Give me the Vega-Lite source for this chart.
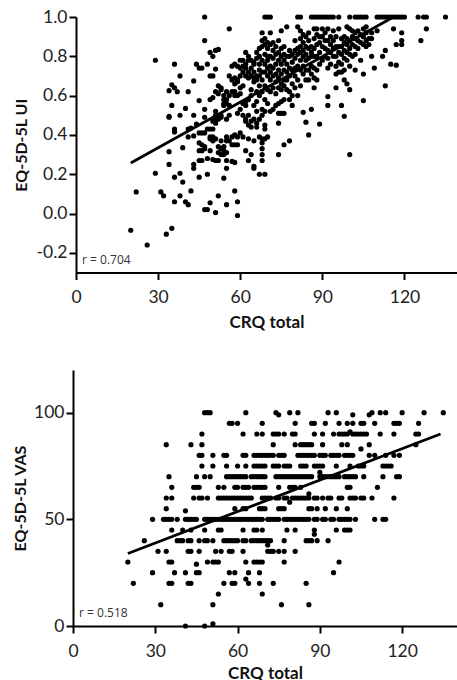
{"$schema":"https://vega.github.io/schema/vega-lite/v6.json","background":"white","padding":{"left":12,"top":8,"right":0,"bottom":0},"spacing":40,"align":"none","bounds":"full",
"config":{"view":{"stroke":null},"font":"Lato","axis":{"grid":false,"domainColor":"black","domainWidth":2,"tickColor":"black","tickWidth":2,"tickSize":7,"labelFont":"Lato","labelFontSize":17.5,"labelColor":"#222","titleFont":"Lato","titleFontSize":16,"titleFontWeight":"bold","titleColor":"#111","labelPadding":2}},
"datasets":{
"ui":[{"c":47,"v":1},{"c":69,"v":1},{"c":70,"v":1},{"c":71,"v":1},{"c":81,"v":1},{"c":82,"v":1},{"c":86,"v":1},{"c":87,"v":1},{"c":88,"v":1},{"c":89,"v":1},{"c":90,"v":1},{"c":91,"v":1},{"c":92,"v":1},{"c":93,"v":1},{"c":94,"v":1},{"c":96,"v":1},{"c":100,"v":1},{"c":102,"v":1},{"c":103,"v":1},{"c":104,"v":1},{"c":105,"v":1},{"c":106,"v":1},{"c":110,"v":1},{"c":111,"v":1},{"c":112,"v":1},{"c":113,"v":1},{"c":114,"v":1},{"c":115,"v":1},{"c":116,"v":1},{"c":117,"v":1},{"c":118,"v":1},{"c":119,"v":1},{"c":120,"v":1},{"c":125,"v":1},{"c":127,"v":1},{"c":128,"v":1},{"c":135,"v":1},
{"c":56,"v":0.94},{"c":128,"v":0.94},{"c":126,"v":0.88},{"c":47,"v":0.88},{"c":119,"v":0.92},{"c":119,"v":0.88},{"c":119,"v":0.86},{"c":117,"v":0.86},{"c":116,"v":0.94},{"c":113,"v":0.83},{"c":115,"v":0.76},{"c":117,"v":0.755},{"c":112,"v":0.8},{"c":108,"v":0.8},{"c":109,"v":0.74},{"c":105,"v":0.71},{"c":102,"v":0.73},{"c":113,"v":0.65},{"c":105,"v":0.575},{"c":100,"v":0.63},{"c":98,"v":0.495},{"c":97,"v":0.55},{"c":92,"v":0.55},{"c":92,"v":0.595},{"c":95,"v":0.64},{"c":89,"v":0.455},{"c":85,"v":0.4},{"c":84,"v":0.465},{"c":86,"v":0.53},{"c":83,"v":0.515},{"c":100,"v":0.3},{"c":74,"v":0.3},{"c":76,"v":0.35},{"c":78,"v":0.37},{"c":29,"v":0.78},{"c":36,"v":0.76},{"c":38,"v":0.7},{"c":43,"v":0.675},{"c":41,"v":0.62},{"c":34,"v":0.625},{"c":35,"v":0.655},{"c":36,"v":0.64},{"c":37,"v":0.62},{"c":35,"v":0.55},{"c":34,"v":0.495},{"c":34,"v":0.49},{"c":38,"v":0.5},{"c":40,"v":0.535},{"c":43,"v":0.5},{"c":45,"v":0.575},{"c":44,"v":0.76},{"c":45,"v":0.74},{"c":46,"v":0.74},{"c":48,"v":0.76},{"c":49,"v":0.82},{"c":50,"v":0.8},{"c":51,"v":0.83},{"c":52,"v":0.835},{"c":49,"v":0.7},{"c":50,"v":0.7},{"c":51,"v":0.735},{"c":36,"v":0.43},{"c":36,"v":0.42},{"c":36,"v":0.415},{"c":34,"v":0.315},{"c":34,"v":0.25},{"c":39,"v":0.335},{"c":41,"v":0.43},{"c":42,"v":0.435},{"c":41,"v":0.39},{"c":43,"v":0.395},{"c":44,"v":0.455},{"c":47,"v":0.49},{"c":47,"v":0.53},{"c":43,"v":0.25},{"c":43,"v":0.23},{"c":45,"v":0.185},{"c":48,"v":0.2},{"c":48,"v":0.28},{"c":46,"v":0.27},{"c":45,"v":0.27},{"c":50,"v":0.275},{"c":51,"v":0.27},{"c":52,"v":0.27},{"c":54,"v":0.18},{"c":55,"v":0.23},{"c":55,"v":0.27},{"c":57,"v":0.265},{"c":58,"v":0.26},{"c":29,"v":0.205},{"c":36,"v":0.185},{"c":38,"v":0.205},{"c":39,"v":0.16},{"c":42,"v":0.115},{"c":22,"v":0.11},{"c":31,"v":0.11},{"c":32,"v":0.09},{"c":36,"v":0.06},{"c":38,"v":0.09},{"c":40,"v":0.06},{"c":41,"v":0.045},{"c":47,"v":0.02},{"c":48,"v":0.02},{"c":49,"v":0.055},{"c":51,"v":0.005},{"c":52,"v":0.09},{"c":55,"v":0.045},{"c":58,"v":0.115},{"c":59,"v":0.06},{"c":59,"v":-0.01},{"c":20,"v":-0.085},{"c":26,"v":-0.16},{"c":33,"v":-0.105},{"c":35,"v":-0.075},
{"c":45,"v":0.41},{"c":45,"v":0.36},{"c":45,"v":0.32},{"c":46,"v":0.35},{"c":46,"v":0.32},{"c":46,"v":0.41},{"c":47,"v":0.34},{"c":47,"v":0.41},{"c":47,"v":0.33},{"c":48,"v":0.43},{"c":49,"v":0.43},{"c":49,"v":0.39},{"c":49,"v":0.38},{"c":49,"v":0.58},{"c":49,"v":0.32},{"c":50,"v":0.43},{"c":50,"v":0.39},{"c":50,"v":0.37},{"c":50,"v":0.59},{"c":50,"v":0.47},{"c":51,"v":0.38},{"c":51,"v":0.62},{"c":51,"v":0.5},{"c":51,"v":0.46},{"c":51,"v":0.52},{"c":51,"v":0.48},{"c":52,"v":0.34},{"c":52,"v":0.31},{"c":52,"v":0.65},{"c":52,"v":0.49},{"c":52,"v":0.48},{"c":52,"v":0.61},{"c":53,"v":0.33},{"c":53,"v":0.3},{"c":53,"v":0.37},{"c":53,"v":0.64},{"c":53,"v":0.63},{"c":53,"v":0.5},{"c":53,"v":0.49},{"c":54,"v":0.32},{"c":54,"v":0.34},{"c":54,"v":0.58},{"c":54,"v":0.56},{"c":54,"v":0.55},{"c":54,"v":0.3},{"c":54,"v":0.6},{"c":55,"v":0.37},{"c":55,"v":0.39},{"c":55,"v":0.31},{"c":55,"v":0.48},{"c":55,"v":0.58},{"c":55,"v":0.56},{"c":55,"v":0.62},{"c":56,"v":0.37},{"c":56,"v":0.5},{"c":56,"v":0.55},{"c":56,"v":0.7},{"c":56,"v":0.6},{"c":57,"v":0.35},{"c":57,"v":0.39},{"c":57,"v":0.68},{"c":57,"v":0.62},{"c":57,"v":0.75},{"c":58,"v":0.35},{"c":58,"v":0.4},{"c":58,"v":0.66},{"c":58,"v":0.69},{"c":58,"v":0.62},{"c":58,"v":0.76},{"c":58,"v":0.6},{"c":59,"v":0.35},{"c":59,"v":0.39},{"c":59,"v":0.51},{"c":59,"v":0.6},{"c":59,"v":0.68},{"c":59,"v":0.67},{"c":59,"v":0.75},{"c":60,"v":0.41},{"c":60,"v":0.53},{"c":60,"v":0.64},{"c":60,"v":0.61},{"c":60,"v":0.7},{"c":60,"v":0.78},{"c":60,"v":0.74},{"c":61,"v":0.39},{"c":61,"v":0.5},{"c":61,"v":0.56},{"c":61,"v":0.65},{"c":61,"v":0.75},{"c":61,"v":0.72},{"c":61,"v":0.78},{"c":62,"v":0.32},{"c":62,"v":0.48},{"c":62,"v":0.47},{"c":62,"v":0.55},{"c":62,"v":0.57},{"c":62,"v":0.76},{"c":62,"v":0.74},{"c":62,"v":0.82},{"c":62,"v":0.7},{"c":63,"v":0.38},{"c":63,"v":0.27},{"c":63,"v":0.45},{"c":63,"v":0.5},{"c":63,"v":0.58},{"c":63,"v":0.69},{"c":63,"v":0.72},{"c":63,"v":0.78},{"c":63,"v":0.8},{"c":64,"v":0.3},{"c":64,"v":0.44},{"c":64,"v":0.47},{"c":64,"v":0.6},{"c":64,"v":0.63},{"c":64,"v":0.7},{"c":64,"v":0.74},{"c":64,"v":0.78},{"c":65,"v":0.37},{"c":65,"v":0.24},{"c":65,"v":0.23},{"c":65,"v":0.48},{"c":65,"v":0.55},{"c":65,"v":0.67},{"c":65,"v":0.69},{"c":65,"v":0.72},{"c":65,"v":0.76},{"c":65,"v":0.77},{"c":66,"v":0.46},{"c":66,"v":0.44},{"c":66,"v":0.52},{"c":66,"v":0.57},{"c":66,"v":0.62},{"c":66,"v":0.68},{"c":66,"v":0.7},{"c":66,"v":0.79},{"c":66,"v":0.82},{"c":67,"v":0.2},{"c":67,"v":0.39},{"c":67,"v":0.48},{"c":67,"v":0.6},{"c":67,"v":0.65},{"c":67,"v":0.7},{"c":67,"v":0.73},{"c":67,"v":0.76},{"c":67,"v":0.8},{"c":67,"v":0.84},{"c":68,"v":0.27},{"c":68,"v":0.3},{"c":68,"v":0.33},{"c":68,"v":0.36},{"c":68,"v":0.38},{"c":68,"v":0.5},{"c":68,"v":0.53},{"c":68,"v":0.62},{"c":68,"v":0.68},{"c":68,"v":0.72},{"c":68,"v":0.78},{"c":68,"v":0.85},{"c":68,"v":0.88},{"c":68,"v":0.92},{"c":69,"v":0.2},{"c":69,"v":0.38},{"c":69,"v":0.45},{"c":69,"v":0.43},{"c":69,"v":0.52},{"c":69,"v":0.58},{"c":69,"v":0.65},{"c":69,"v":0.72},{"c":69,"v":0.76},{"c":69,"v":0.81},{"c":69,"v":0.86},{"c":69,"v":0.89},{"c":70,"v":0.39},{"c":70,"v":0.56},{"c":70,"v":0.63},{"c":70,"v":0.7},{"c":70,"v":0.74},{"c":70,"v":0.78},{"c":70,"v":0.84},{"c":70,"v":0.87},{"c":70,"v":0.8},{"c":71,"v":0.52},{"c":71,"v":0.62},{"c":71,"v":0.68},{"c":71,"v":0.72},{"c":71,"v":0.75},{"c":71,"v":0.8},{"c":71,"v":0.86},{"c":71,"v":0.92},{"c":72,"v":0.53},{"c":72,"v":0.64},{"c":72,"v":0.7},{"c":72,"v":0.74},{"c":72,"v":0.79},{"c":72,"v":0.83},{"c":72,"v":0.87},{"c":73,"v":0.55},{"c":73,"v":0.61},{"c":73,"v":0.67},{"c":73,"v":0.71},{"c":73,"v":0.76},{"c":73,"v":0.81},{"c":73,"v":0.85},{"c":74,"v":0.46},{"c":74,"v":0.51},{"c":74,"v":0.56},{"c":74,"v":0.64},{"c":74,"v":0.69},{"c":74,"v":0.73},{"c":74,"v":0.78},{"c":74,"v":0.82},{"c":74,"v":0.88},{"c":75,"v":0.51},{"c":75,"v":0.57},{"c":75,"v":0.63},{"c":75,"v":0.66},{"c":75,"v":0.71},{"c":75,"v":0.76},{"c":75,"v":0.8},{"c":75,"v":0.84},{"c":75,"v":0.93},{"c":76,"v":0.51},{"c":76,"v":0.58},{"c":76,"v":0.65},{"c":76,"v":0.68},{"c":76,"v":0.73},{"c":76,"v":0.78},{"c":76,"v":0.81},{"c":76,"v":0.85},{"c":77,"v":0.63},{"c":77,"v":0.68},{"c":77,"v":0.72},{"c":77,"v":0.76},{"c":77,"v":0.8},{"c":77,"v":0.95},{"c":78,"v":0.58},{"c":78,"v":0.62},{"c":78,"v":0.7},{"c":78,"v":0.74},{"c":78,"v":0.8},{"c":78,"v":0.83},{"c":79,"v":0.55},{"c":79,"v":0.6},{"c":79,"v":0.66},{"c":79,"v":0.73},{"c":79,"v":0.77},{"c":79,"v":0.81},{"c":80,"v":0.64},{"c":80,"v":0.7},{"c":80,"v":0.74},{"c":80,"v":0.79},{"c":80,"v":0.83},{"c":80,"v":0.88},{"c":81,"v":0.6},{"c":81,"v":0.68},{"c":81,"v":0.75},{"c":81,"v":0.81},{"c":81,"v":0.84},{"c":81,"v":0.95},{"c":82,"v":0.65},{"c":82,"v":0.73},{"c":82,"v":0.78},{"c":82,"v":0.82},{"c":82,"v":0.85},{"c":82,"v":0.89},{"c":82,"v":0.93},{"c":83,"v":0.71},{"c":83,"v":0.75},{"c":83,"v":0.8},{"c":83,"v":0.83},{"c":83,"v":0.87},{"c":83,"v":0.91},{"c":84,"v":0.68},{"c":84,"v":0.73},{"c":84,"v":0.78},{"c":84,"v":0.81},{"c":84,"v":0.85},{"c":84,"v":0.9},{"c":85,"v":0.68},{"c":85,"v":0.73},{"c":85,"v":0.79},{"c":85,"v":0.84},{"c":85,"v":0.88},{"c":85,"v":0.92},{"c":86,"v":0.71},{"c":86,"v":0.75},{"c":86,"v":0.8},{"c":86,"v":0.85},{"c":86,"v":0.82},{"c":87,"v":0.64},{"c":87,"v":0.69},{"c":87,"v":0.74},{"c":87,"v":0.8},{"c":87,"v":0.84},{"c":87,"v":0.89},{"c":87,"v":0.94},{"c":88,"v":0.68},{"c":88,"v":0.73},{"c":88,"v":0.8},{"c":88,"v":0.86},{"c":88,"v":0.91},{"c":88,"v":0.94},{"c":89,"v":0.76},{"c":89,"v":0.82},{"c":89,"v":0.87},{"c":89,"v":0.9},{"c":90,"v":0.78},{"c":90,"v":0.85},{"c":90,"v":0.9},{"c":90,"v":0.94},{"c":91,"v":0.8},{"c":91,"v":0.84},{"c":91,"v":0.88},{"c":91,"v":0.92},{"c":92,"v":0.74},{"c":92,"v":0.79},{"c":92,"v":0.83},{"c":92,"v":0.88},{"c":92,"v":0.94},{"c":93,"v":0.76},{"c":93,"v":0.82},{"c":93,"v":0.86},{"c":93,"v":0.9},{"c":94,"v":0.8},{"c":94,"v":0.84},{"c":94,"v":0.88},{"c":94,"v":0.93},{"c":95,"v":0.71},{"c":95,"v":0.75},{"c":95,"v":0.8},{"c":95,"v":0.85},{"c":95,"v":0.9},{"c":96,"v":0.72},{"c":96,"v":0.77},{"c":96,"v":0.82},{"c":96,"v":0.85},{"c":96,"v":0.94},{"c":97,"v":0.72},{"c":97,"v":0.76},{"c":97,"v":0.81},{"c":97,"v":0.85},{"c":97,"v":0.89},{"c":98,"v":0.68},{"c":98,"v":0.73},{"c":98,"v":0.79},{"c":98,"v":0.83},{"c":98,"v":0.87},{"c":98,"v":0.9},{"c":99,"v":0.66},{"c":99,"v":0.78},{"c":99,"v":0.82},{"c":99,"v":0.86},{"c":99,"v":0.89},{"c":99,"v":0.95},{"c":100,"v":0.75},{"c":100,"v":0.81},{"c":100,"v":0.84},{"c":100,"v":0.88},{"c":100,"v":0.94},{"c":101,"v":0.8},{"c":101,"v":0.86},{"c":101,"v":0.9},{"c":101,"v":0.93},{"c":102,"v":0.81},{"c":102,"v":0.85},{"c":102,"v":0.89},{"c":102,"v":0.92},{"c":103,"v":0.84},{"c":103,"v":0.88},{"c":103,"v":0.93},{"c":104,"v":0.78},{"c":104,"v":0.87},{"c":104,"v":0.91},{"c":105,"v":0.86},{"c":105,"v":0.9},{"c":105,"v":0.94},{"c":106,"v":0.85},{"c":106,"v":0.88},{"c":106,"v":0.92},{"c":106,"v":0.95},{"c":107,"v":0.89},{"c":107,"v":0.86},{"c":108,"v":0.89},{"c":108,"v":0.92},{"c":110,"v":0.93}],
"uifit":[{"c":20,"v":0.257},{"c":116,"v":1}],
"uinote":[{"c":2.2,"v":-0.237,"t":"r = 0.704"}],
"vas":[{"c":48,"v":100},{"c":49,"v":100},{"c":50,"v":100},{"c":63,"v":100},{"c":74,"v":100},{"c":79,"v":100},{"c":82,"v":100},{"c":93,"v":100},{"c":96,"v":100},{"c":109,"v":100},{"c":112,"v":100},{"c":114,"v":100},{"c":120,"v":100},{"c":128,"v":100},{"c":135,"v":100},{"c":75,"v":99},{"c":102,"v":99},{"c":108,"v":99},
{"c":57,"v":95},{"c":58,"v":95},{"c":60,"v":95},{"c":69,"v":95},{"c":81,"v":95},{"c":87,"v":95},{"c":88,"v":95},{"c":92,"v":95},{"c":97,"v":95},{"c":100,"v":95},{"c":102,"v":95},{"c":105,"v":95},{"c":106,"v":95},{"c":110,"v":95},{"c":117,"v":95},{"c":118,"v":95},{"c":119,"v":95},{"c":126,"v":95},
{"c":47,"v":90},{"c":62,"v":90},{"c":67,"v":90},{"c":69,"v":90},{"c":73,"v":90},{"c":74,"v":90},{"c":75,"v":90},{"c":77,"v":90},{"c":80,"v":90},{"c":81,"v":90},{"c":88,"v":90},{"c":91,"v":90},{"c":95,"v":90},{"c":97,"v":90},{"c":98,"v":90},{"c":99,"v":90},{"c":100,"v":90},{"c":101,"v":91},{"c":102,"v":90},{"c":103,"v":90},{"c":104,"v":90},{"c":105,"v":90},{"c":106,"v":90},{"c":107,"v":90},{"c":112,"v":90},{"c":117,"v":90},{"c":125,"v":90},{"c":126,"v":90},
{"c":34,"v":85},{"c":43,"v":85},{"c":47,"v":85},{"c":73,"v":85},{"c":81,"v":85},{"c":83,"v":85},{"c":84,"v":85},{"c":85,"v":85},{"c":86,"v":85},{"c":87,"v":85},{"c":91,"v":85},{"c":98,"v":85},{"c":100,"v":85},{"c":108,"v":85},{"c":125,"v":85},{"c":105,"v":83},
{"c":46,"v":80},{"c":47,"v":80},{"c":51,"v":80},{"c":55,"v":80},{"c":56,"v":80},{"c":62,"v":80},{"c":63,"v":80},{"c":66,"v":80},{"c":67,"v":80},{"c":68,"v":80},{"c":69,"v":80},{"c":70,"v":80},{"c":71,"v":80},{"c":72,"v":80},{"c":73,"v":80},{"c":75,"v":80},{"c":76,"v":80},{"c":77,"v":80},{"c":82,"v":80},{"c":83,"v":80},{"c":84,"v":80},{"c":85,"v":80},{"c":86,"v":80},{"c":87,"v":80},{"c":88,"v":80},{"c":90,"v":80},{"c":91,"v":80},{"c":92,"v":80},{"c":94,"v":80},{"c":95,"v":80},{"c":96,"v":80},{"c":97,"v":80},{"c":99,"v":80},{"c":100,"v":80},{"c":101,"v":80},{"c":102,"v":80},{"c":108,"v":80},{"c":110,"v":80},{"c":114,"v":80},{"c":117,"v":80},{"c":119,"v":80},
{"c":47,"v":75},{"c":51,"v":75},{"c":56,"v":75},{"c":60,"v":75},{"c":63,"v":75},{"c":66,"v":75},{"c":67,"v":75},{"c":68,"v":75},{"c":69,"v":75},{"c":70,"v":75},{"c":73,"v":75},{"c":74,"v":75},{"c":75,"v":75},{"c":77,"v":75},{"c":78,"v":75},{"c":79,"v":75},{"c":83,"v":75},{"c":84,"v":75},{"c":85,"v":75},{"c":88,"v":75},{"c":89,"v":75},{"c":90,"v":75},{"c":91,"v":75},{"c":96,"v":75},{"c":101,"v":75},{"c":104,"v":75},{"c":105,"v":75},{"c":106,"v":75},{"c":113,"v":75},{"c":114,"v":75},{"c":115,"v":75},{"c":116,"v":75},{"c":90,"v":72},
{"c":35,"v":70},{"c":45,"v":70},{"c":48,"v":70},{"c":50,"v":70},{"c":56,"v":70},{"c":57,"v":70},{"c":58,"v":70},{"c":59,"v":70},{"c":60,"v":70},{"c":61,"v":70},{"c":62,"v":70},{"c":63,"v":70},{"c":65,"v":70},{"c":66,"v":70},{"c":67,"v":70},{"c":68,"v":70},{"c":69,"v":70},{"c":70,"v":70},{"c":74,"v":70},{"c":75,"v":70},{"c":76,"v":70},{"c":77,"v":70},{"c":78,"v":70},{"c":79,"v":70},{"c":80,"v":70},{"c":81,"v":70},{"c":82,"v":70},{"c":83,"v":70},{"c":84,"v":70},{"c":85,"v":70},{"c":86,"v":70},{"c":87,"v":70},{"c":90,"v":70},{"c":91,"v":70},{"c":92,"v":70},{"c":93,"v":70},{"c":94,"v":70},{"c":95,"v":70},{"c":96,"v":70},{"c":97,"v":70},{"c":99,"v":70},{"c":100,"v":70},{"c":101,"v":70},{"c":102,"v":70},{"c":103,"v":70},{"c":106,"v":70},{"c":113,"v":70},{"c":118,"v":70},{"c":119,"v":70},
{"c":36,"v":65},{"c":44,"v":65},{"c":45,"v":65},{"c":46,"v":65},{"c":53,"v":65},{"c":55,"v":65},{"c":59,"v":65},{"c":60,"v":65},{"c":62,"v":65},{"c":63,"v":65},{"c":64,"v":65},{"c":66,"v":65},{"c":67,"v":65},{"c":68,"v":65},{"c":69,"v":65},{"c":70,"v":65},{"c":75,"v":65},{"c":79,"v":65},{"c":80,"v":65},{"c":81,"v":65},{"c":83,"v":65},{"c":100,"v":65},{"c":101,"v":65},{"c":111,"v":65},
{"c":34,"v":60},{"c":36,"v":60},{"c":44,"v":60},{"c":46,"v":60},{"c":47,"v":60},{"c":49,"v":60},{"c":53,"v":60},{"c":54,"v":60},{"c":55,"v":60},{"c":56,"v":60},{"c":57,"v":60},{"c":58,"v":60},{"c":59,"v":60},{"c":60,"v":60},{"c":61,"v":60},{"c":62,"v":60},{"c":63,"v":60},{"c":64,"v":60},{"c":65,"v":60},{"c":69,"v":60},{"c":70,"v":60},{"c":71,"v":60},{"c":72,"v":60},{"c":74,"v":60},{"c":75,"v":60},{"c":77,"v":60},{"c":78,"v":60},{"c":80,"v":60},{"c":81,"v":60},{"c":82,"v":60},{"c":83,"v":60},{"c":84,"v":60},{"c":85,"v":60},{"c":86,"v":62},{"c":86,"v":60},{"c":88,"v":60},{"c":89,"v":60},{"c":91,"v":60},{"c":93,"v":60},{"c":94,"v":60},{"c":97,"v":60},{"c":98,"v":60},{"c":101,"v":60},{"c":102,"v":60},{"c":103,"v":60},{"c":105,"v":60},{"c":106,"v":60},{"c":109,"v":60},{"c":117,"v":60},{"c":79,"v":58},
{"c":34,"v":55},{"c":41,"v":54},{"c":59,"v":55},{"c":62,"v":55},{"c":63,"v":55},{"c":68,"v":55},{"c":69,"v":55},{"c":70,"v":55},{"c":75,"v":55},{"c":76,"v":55},{"c":77,"v":55},{"c":86,"v":55},{"c":87,"v":55},{"c":89,"v":55},{"c":92,"v":55},{"c":96,"v":55},{"c":100,"v":55},
{"c":29,"v":50},{"c":33,"v":50},{"c":34,"v":50},{"c":35,"v":50},{"c":36,"v":50},{"c":38,"v":50},{"c":41,"v":50},{"c":42,"v":50},{"c":43,"v":50},{"c":44,"v":50},{"c":45,"v":50},{"c":48,"v":50},{"c":49,"v":50},{"c":50,"v":50},{"c":51,"v":50},{"c":52,"v":50},{"c":53,"v":50},{"c":54,"v":50},{"c":55,"v":50},{"c":56,"v":50},{"c":57,"v":50},{"c":58,"v":50},{"c":59,"v":50},{"c":60,"v":50},{"c":61,"v":50},{"c":62,"v":50},{"c":63,"v":50},{"c":64,"v":50},{"c":65,"v":50},{"c":66,"v":50},{"c":67,"v":50},{"c":68,"v":50},{"c":69,"v":50},{"c":71,"v":50},{"c":72,"v":50},{"c":73,"v":50},{"c":74,"v":50},{"c":75,"v":50},{"c":77,"v":50},{"c":78,"v":50},{"c":79,"v":50},{"c":80,"v":50},{"c":81,"v":50},{"c":82,"v":50},{"c":83,"v":50},{"c":84,"v":50},{"c":85,"v":50},{"c":86,"v":50},{"c":88,"v":50},{"c":89,"v":50},{"c":91,"v":50},{"c":92,"v":50},{"c":94,"v":50},{"c":95,"v":50},{"c":97,"v":50},{"c":98,"v":50},{"c":99,"v":50},{"c":100,"v":50},{"c":101,"v":50},{"c":103,"v":50},{"c":110,"v":50},{"c":113,"v":50},{"c":114,"v":50},
{"c":36,"v":45},{"c":40,"v":45},{"c":43,"v":45},{"c":48,"v":45},{"c":53,"v":45},{"c":54,"v":45},{"c":62,"v":45},{"c":66,"v":45},{"c":67,"v":45},{"c":69,"v":45},{"c":78,"v":45},{"c":81,"v":45},{"c":88,"v":45},{"c":88,"v":43},{"c":96,"v":45},{"c":99,"v":45},{"c":100,"v":45},{"c":101,"v":45},
{"c":26,"v":40},{"c":38,"v":40},{"c":39,"v":40},{"c":40,"v":40},{"c":42,"v":40},{"c":43,"v":40},{"c":46,"v":40},{"c":48,"v":40},{"c":49,"v":40},{"c":51,"v":40},{"c":55,"v":40},{"c":56,"v":40},{"c":57,"v":40},{"c":58,"v":40},{"c":59,"v":40},{"c":60,"v":40},{"c":62,"v":40},{"c":63,"v":40},{"c":65,"v":40},{"c":66,"v":40},{"c":67,"v":40},{"c":68,"v":40},{"c":69,"v":40},{"c":70,"v":40},{"c":71,"v":40},{"c":72,"v":40},{"c":71,"v":38},{"c":77,"v":40},{"c":85,"v":40},{"c":86,"v":40},{"c":87,"v":40},{"c":89,"v":40},{"c":93,"v":40},
{"c":31,"v":35},{"c":34,"v":35},{"c":42,"v":35},{"c":43,"v":35},{"c":46,"v":35},{"c":52,"v":35},{"c":54,"v":35},{"c":57,"v":35},{"c":58,"v":35},{"c":62,"v":35},{"c":71,"v":35},{"c":72,"v":35},{"c":73,"v":35},{"c":75,"v":35},{"c":77,"v":35},{"c":81,"v":35},
{"c":20,"v":30},{"c":35,"v":30},{"c":36,"v":30},{"c":45,"v":29},{"c":49,"v":30},{"c":51,"v":30},{"c":52,"v":30},{"c":53,"v":30},{"c":63,"v":30},{"c":66,"v":30},{"c":67,"v":30},{"c":68,"v":30},{"c":69,"v":30},{"c":77,"v":30},{"c":97,"v":30},
{"c":29,"v":25},{"c":37,"v":25},{"c":41,"v":25},{"c":45,"v":25},{"c":46,"v":25},{"c":57,"v":25},{"c":59,"v":25},{"c":64,"v":25},{"c":68,"v":25},{"c":95,"v":25},
{"c":22,"v":20},{"c":35,"v":20},{"c":36,"v":20},{"c":42,"v":20},{"c":43,"v":20},{"c":55,"v":20},{"c":58,"v":20},{"c":59,"v":20},{"c":63,"v":22},{"c":64,"v":20},{"c":68,"v":20},{"c":73,"v":20},{"c":85,"v":20},
{"c":53,"v":15},{"c":69,"v":15},{"c":32,"v":10},{"c":51,"v":10},{"c":76,"v":10},{"c":86,"v":10},{"c":41,"v":0},{"c":48,"v":0},{"c":51,"v":1}],
"vasfit":[{"c":20,"v":34},{"c":134,"v":90}],
"vasnote":[{"c":2.2,"v":6.2,"t":"r = 0.518"}]},
"vconcat":[
{"width":384,"height":255.5,"layer":[
{"data":{"name":"ui"},"mark":{"type":"circle","size":27,"color":"black","opacity":1},"encoding":{"x":{"field":"c","type":"quantitative","scale":{"domain":[0,139.2],"nice":false,"range":[3,384]},"axis":{"values":[0,30,60,90,120],"title":"CRQ total","titlePadding":8,"titleFontSize":17,"labelFlush":false,"labelPadding":9}},"y":{"field":"v","type":"quantitative","scale":{"domain":[-0.3,1],"nice":false},"axis":{"values":[-0.2,0,0.2,0.4,0.6,0.8,1],"format":".1f","labelExpr":"replace(datum.label,'−','-')","title":"EQ-5D-5L UI","titlePadding":7,"offset":-3}}}},
{"data":{"name":"uifit"},"mark":{"type":"line","color":"black","strokeWidth":2.8},"encoding":{"x":{"field":"c","type":"quantitative"},"y":{"field":"v","type":"quantitative"}}},
{"data":{"name":"uinote"},"mark":{"type":"text","align":"left","baseline":"middle","fontSize":12,"color":"#333","font":"Open Sans"},"encoding":{"x":{"field":"c","type":"quantitative"},"y":{"field":"v","type":"quantitative"},"text":{"field":"t"}}}]},
{"width":384,"height":256,"layer":[
{"data":{"name":"vas"},"mark":{"type":"circle","size":27,"color":"black","opacity":1},"encoding":{"x":{"field":"c","type":"quantitative","scale":{"domain":[0,140],"nice":false},"axis":{"values":[0,30,60,90,120],"title":"CRQ total","titlePadding":6,"titleFontSize":17,"labelFlush":false,"labelPadding":9}},"y":{"field":"v","type":"quantitative","scale":{"domain":[0,120],"nice":false},"axis":{"values":[0,50,100],"title":"EQ-5D-5L VAS","titlePadding":5}}}},
{"data":{"name":"vasfit"},"mark":{"type":"line","color":"black","strokeWidth":2.8},"encoding":{"x":{"field":"c","type":"quantitative"},"y":{"field":"v","type":"quantitative"}}},
{"data":{"name":"vasnote"},"mark":{"type":"text","align":"left","baseline":"middle","fontSize":12,"color":"#333","font":"Open Sans"},"encoding":{"x":{"field":"c","type":"quantitative"},"y":{"field":"v","type":"quantitative"},"text":{"field":"t"}}}]}
]}
